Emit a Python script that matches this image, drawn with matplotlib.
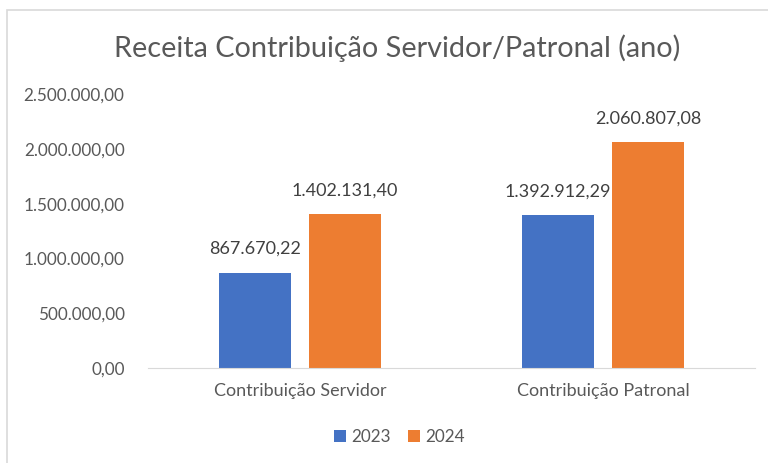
import numpy as np
import matplotlib.pyplot as plt
from matplotlib.patches import Rectangle

categories = ["Contribuição Servidor", "Contribuição Patronal"]
years = ["2023", "2024"]
values_2023 = [867670.22, 1392912.29]
values_2024 = [1402131.40, 2060807.08]
yticks = [0, 500000, 1000000, 1500000, 2000000, 2500000]


def br_format(v):
    """Formata número no padrão brasileiro: 1.234.567,89"""
    s = f"{v:,.2f}"
    return s.replace(",", "X").replace(".", ",").replace("X", ".")


plt.rcParams["font.family"] = ["Lato", "DejaVu Sans"]
gray = "#595959"
colors = ["#4472C4", "#ED7D31"]

fig = plt.figure(figsize=(7.68, 4.63), dpi=100)
ax = fig.add_axes([0.193, 0.205, 0.79, 0.592])

# moldura do gráfico
fig.patches.append(Rectangle((7 / 768, -0.05), 1.0, 1 - 10 / 463 + 0.05,
                             transform=fig.transFigure, fill=False,
                             edgecolor="#D9D9D9", linewidth=1.2))

x = np.arange(len(categories))
w = 0.237
off = w / 2 + 0.03
b1 = ax.bar(x - off, values_2023, w, color=colors[0], label=years[0])
b2 = ax.bar(x + off, values_2024, w, color=colors[1], label=years[1])

for bars, vals in ((b1, values_2023), (b2, values_2024)):
    for rect, v in zip(bars, vals):
        ax.text(rect.get_x() + rect.get_width() / 2, v + 145000, br_format(v),
                ha="center", va="bottom", fontsize=13, color="#404040")

ax.set_xlim(-0.5, 1.5)
ax.set_ylim(0, 2500000)
ax.set_yticks(yticks)
ax.set_yticklabels([br_format(t) for t in yticks], fontsize=12.3, color=gray)
ax.set_xticks(x)
ax.set_xticklabels(categories, fontsize=13, color=gray)
ax.tick_params(axis="both", length=0)
ax.tick_params(axis="x", pad=11)
ax.tick_params(axis="y", pad=17)

for s in ("top", "right", "left"):
    ax.spines[s].set_visible(False)
ax.spines["bottom"].set_color("#D9D9D9")

fig.text(0.517, 0.895, "Receita Contribuição Servidor/Patronal (ano)",
         ha="center", va="center", fontsize=20.8, color=gray)

fig.legend(handles=[b1, b2], labels=years, loc="center", ncol=2,
           bbox_to_anchor=(0.52, 0.056), frameon=False, fontsize=12.3,
           labelcolor=gray, handlelength=0.7, handleheight=0.7,
           handletextpad=0.3, columnspacing=1.0)

fig.savefig("out.png", dpi=100)
